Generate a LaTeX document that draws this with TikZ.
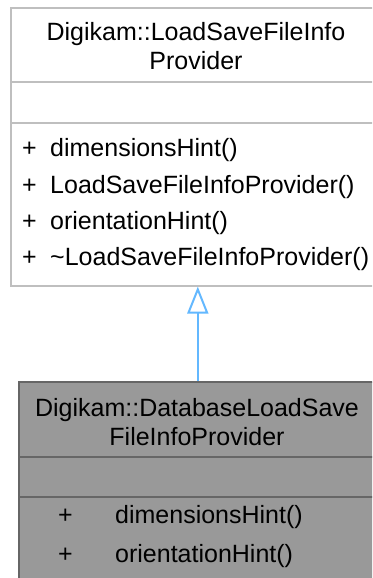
\documentclass[tikz,border=0pt]{standalone}
\usepackage{fontspec}
\setmainfont{Liberation Sans}
\usetikzlibrary{arrows.meta}
\definecolor{topborder}{HTML}{BFBFBF}
\definecolor{botfill}{HTML}{999999}
\definecolor{botborder}{HTML}{666666}
\definecolor{arrowblue}{HTML}{63B8FF}
\begin{document}
\begin{tikzpicture}[x=1pt,y=-1pt,
  txt/.style={inner sep=0pt, anchor=base west, font=\fontsize{25}{29}\selectfont},
  ttl/.style={inner sep=0pt, anchor=base, font=\fontsize{25}{29}\selectfont},
  classbox/.style={draw, line width=1.6pt, anchor=north west, inner sep=0pt},
  sep/.style={line width=1.6pt},
  inherit/.style={draw=arrowblue, line width=2pt, -{Triangle[open, length=27pt, width=21pt, fill=white, line width=2pt]}}]
\useasboundingbox (0,0) rectangle (372,578);
\clip (0,0) rectangle (372,578);
% top class
\node[classbox, draw=topborder, fill=white, minimum width=374pt, minimum height=278pt] (base) at (10,7) {};
\draw[sep, topborder] (10,82) -- (384,82);
\draw[sep, topborder] (10,123) -- (384,123);
\node[ttl] (bt1) at (196,41) {Digikam::LoadSaveFileInfo};
\node[ttl] (bt2) at (196,70) {Provider};
\node[txt] (bp1) at (22,156) {+};
\node[txt] (bm1) at (50,156) {dimensionsHint()};
\node[txt] (bp2) at (22,193) {+};
\node[txt] (bm2) at (50,193) {LoadSaveFileInfoProvider()};
\node[txt] (bp3) at (22,229) {+};
\node[txt] (bm3) at (50,229) {orientationHint()};
\node[txt] (bp4) at (22,265) {+};
\node[txt] (bm4) at (50,265) {\char"007ELoadSaveFileInfoProvider()};
% derived class
\node[classbox, draw=botborder, fill=botfill, minimum width=358pt, minimum height=230pt] (derived) at (18,381) {};
\draw[sep, botborder] (18,457) -- (376,457);
\draw[sep, botborder] (18,497) -- (376,497);
\node[ttl] (dt1) at (197,416) {Digikam::DatabaseLoadSave};
\node[ttl] (dt2) at (197,445) {FileInfoProvider};
\node[txt] (dp1) at (58,523) {+};
\node[txt] (dm1) at (115,523) {dimensionsHint()};
\node[txt] (dp2) at (58,562) {+};
\node[txt] (dm2) at (115,562) {orientationHint()};
% inheritance
\draw[inherit] (derived.north) -- (base.south);
\end{tikzpicture}
\end{document}
